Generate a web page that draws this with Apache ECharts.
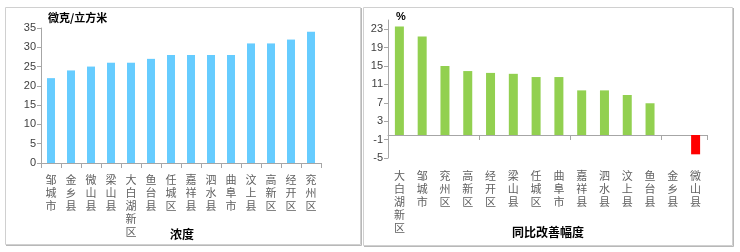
<!DOCTYPE html>
<html><head><meta charset="utf-8">
<script src="https://cdn.jsdelivr.net/npm/echarts@6/dist/echarts.min.js"></script>
<style>html,body{margin:0;padding:0;background:#fff}#c{width:740px;height:252px}</style>
</head><body><div id="c"></div>
<script>
const leftCats = ['邹城市','金乡县','微山县','梁山县','大白湖新区','鱼台县','任城区','嘉祥县','泗水县','曲阜市','汶上县','高新区','经开区','兖州区'];
const leftVals = [22,24,25,26,26,27,28,28,28,28,31,31,32,34];
const rightCats = ['大白湖新区','邹城市','兖州区','高新区','经开区','梁山县','任城区','曲阜市','嘉祥县','泗水县','汶上县','鱼台县','金乡县','微山县'];
const rightVals = [23.6,21.4,15.0,13.9,13.5,13.3,12.6,12.6,9.7,9.7,8.7,6.9,0,-4.2];
const leftUnit = '微克/立方米', leftName = '浓度';
const rightUnit = '%', rightName = '同比改善幅度';

const axisColor = '#A6A6A6';
const numFont = {color:'#404040', fontSize:11, fontFamily:'Liberation Sans'};
const catLabel = {color:'#606060', fontSize:11, lineHeight:13, fontFamily:'Noto Sans CJK SC',
  formatter: v => v.split('').join('\n')};
const chart = echarts.init(document.getElementById('c'), null, {renderer:'canvas'});
chart.setOption({
  animation:false,
  grid:[
    {left:41, top:28, width:280, height:135},
    {left:388, top:20, width:319, height:138}
  ],
  xAxis:[
    {gridIndex:0, type:'category', data:leftCats,
     axisLine:{lineStyle:{color:axisColor}}, axisTick:{show:true, length:5, lineStyle:{color:axisColor}},
     axisLabel:Object.assign({margin:10, interval:0}, catLabel)},
    {gridIndex:1, type:'category', data:rightCats,
     axisLine:{onZero:true, lineStyle:{color:axisColor}}, axisTick:{show:true, length:5, lineStyle:{color:axisColor}},
     axisLabel:{show:false}},
    {gridIndex:1, type:'category', data:rightCats, position:'bottom',
     axisLine:{show:false, onZero:false}, axisTick:{show:false},
     axisLabel:Object.assign({margin:11, interval:0}, catLabel)}
  ],
  yAxis:[
    {gridIndex:0, type:'value', min:0, max:35, interval:5,
     axisLine:{show:true, lineStyle:{color:axisColor}}, axisTick:{show:true, length:4, lineStyle:{color:axisColor}},
     splitLine:{show:false}, axisLabel:Object.assign({margin:5}, numFont)},
    {gridIndex:1, type:'value', min:-5, max:25, interval:4,
     axisLine:{show:true, lineStyle:{color:axisColor}}, axisTick:{show:true, length:4, lineStyle:{color:axisColor}},
     splitLine:{show:false}, axisLabel:Object.assign({margin:5, showMaxLabel:false}, numFont)}
  ],
  series:[
    {type:'bar', xAxisIndex:0, yAxisIndex:0, data:leftVals, barWidth:8,
     itemStyle:{color:'#66CCFF'}},
    {type:'bar', xAxisIndex:1, yAxisIndex:1, data:rightVals, barWidth:9,
     itemStyle:{color: p => p.value < 0 ? '#FF0000' : '#92D050'}}
  ],
  graphic:[
    {type:'rect', shape:{x:5.5, y:7.5, width:355, height:237}, style:{fill:null, stroke:'#D0D0D0', lineWidth:1}, silent:true},
    {type:'line', shape:{x1:361.5, y1:8, x2:361.5, y2:245.5}, style:{stroke:'#B8B8B8', lineWidth:1}},
    {type:'line', shape:{x1:6, y1:245.5, x2:361.5, y2:245.5}, style:{stroke:'#B8B8B8', lineWidth:1}},
    {type:'rect', shape:{x:363.5, y:7.5, width:369, height:238}, style:{fill:null, stroke:'#D0D0D0', lineWidth:1}, silent:true},
    {type:'line', shape:{x1:733.5, y1:8, x2:733.5, y2:246.5}, style:{stroke:'#B8B8B8', lineWidth:1}},
    {type:'line', shape:{x1:364, y1:246.5, x2:733.5, y2:246.5}, style:{stroke:'#B8B8B8', lineWidth:1}},
    {type:'text', left:48, top:12, style:{text:leftUnit, fill:'#000', font:'bold 11px "Noto Sans CJK SC"'}},
    {type:'text', left:170, top:228, style:{text:leftName, fill:'#000', font:'bold 12px "Noto Sans CJK SC"'}},
    {type:'text', left:396, top:11, style:{text:rightUnit, fill:'#000', font:'bold 11px "Liberation Sans"'}},
    {type:'text', left:512, top:226, style:{text:rightName, fill:'#000', font:'bold 12px "Noto Sans CJK SC"'}}
  ]
});
</script></body></html>
